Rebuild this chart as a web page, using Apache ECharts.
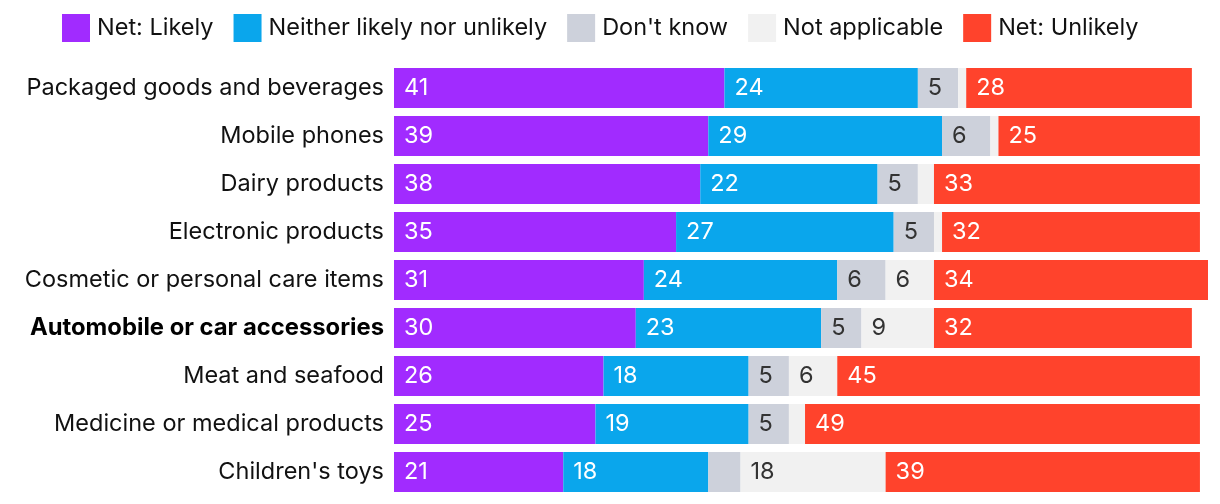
<!DOCTYPE html>
<html><head><meta charset="utf-8">
<script src="https://cdn.jsdelivr.net/npm/echarts@6/dist/echarts.min.js"></script>
<style>html,body{margin:0;padding:0;background:#fff}#c{width:1220px;height:504px}</style>
</head><body><div id="c"></div>
<script>
const categories = ['Packaged goods and beverages','Mobile phones','Dairy products','Electronic products','Cosmetic or personal care items','Automobile or car accessories','Meat and seafood','Medicine or medical products',"Children's toys"];
const highlighted = 'Automobile or car accessories';
const seriesNames = ['Net: Likely','Neither likely nor unlikely',"Don't know",'Not applicable','Net: Unlikely'];
const netLikely = [41,39,38,35,31,30,26,25,21];
const neither = [24,29,22,27,24,23,18,19,18];
const dontKnow = [5,6,5,5,6,5,5,5,4];
const notApplicable = [1,1,2,1,6,9,6,2,18];
const netUnlikely = [28,25,33,32,34,32,45,49,39];

const colors = ['#A12BFF','#0AA6EC','#CDD1DB','#F1F1F1','#FF432C'];
const labelColors = ['#ffffff','#ffffff','#333333','#333333','#ffffff'];
const values = [netLikely, neither, dontKnow, notApplicable, netUnlikely];
const FONT = 'Inter';
const FS = 23.5;

const chart = echarts.init(document.getElementById('c'), null, {renderer:'canvas'});
chart.setOption({
  animation:false,
  color: colors,
  textStyle:{fontFamily:FONT},
  legend:{
    left:57, top:9,
    itemWidth:28, itemHeight:28, itemGap:20,
    icon:'rect',
    textStyle:{fontFamily:FONT, fontSize:FS, color:'#111111', padding:[0,0,3,2]},
    data: seriesNames
  },
  grid:{left:394, right:12, top:64, bottom:8, containLabel:false},
  xAxis:{type:'value', min:0, max:101, show:false},
  yAxis:{
    type:'category', data:categories, inverse:true,
    axisLine:{show:false}, axisTick:{show:false},
    axisLabel:{
      margin:10, fontFamily:FONT, fontSize:FS, color:'#111111',
      formatter: v => v === highlighted ? '{b|' + v + '}' : v,
      rich:{b:{fontFamily:FONT, fontSize:23.8, fontWeight:'bold', color:'#000000'}}
    }
  },
  series: seriesNames.map((n,i)=>({
    name:n, type:'bar', stack:'total', barCategoryGap:'16.67%',
    clip:false,
    data: values[i],
    itemStyle:{color:colors[i]},
    emphasis:{disabled:true},
    label:{
      show:true, position:'insideLeft', distance:10,
      fontFamily:FONT, fontSize:FS, color:labelColors[i],
      formatter: p => p.value >= 5 ? String(p.value) : ''
    }
  }))
});
</script></body></html>
